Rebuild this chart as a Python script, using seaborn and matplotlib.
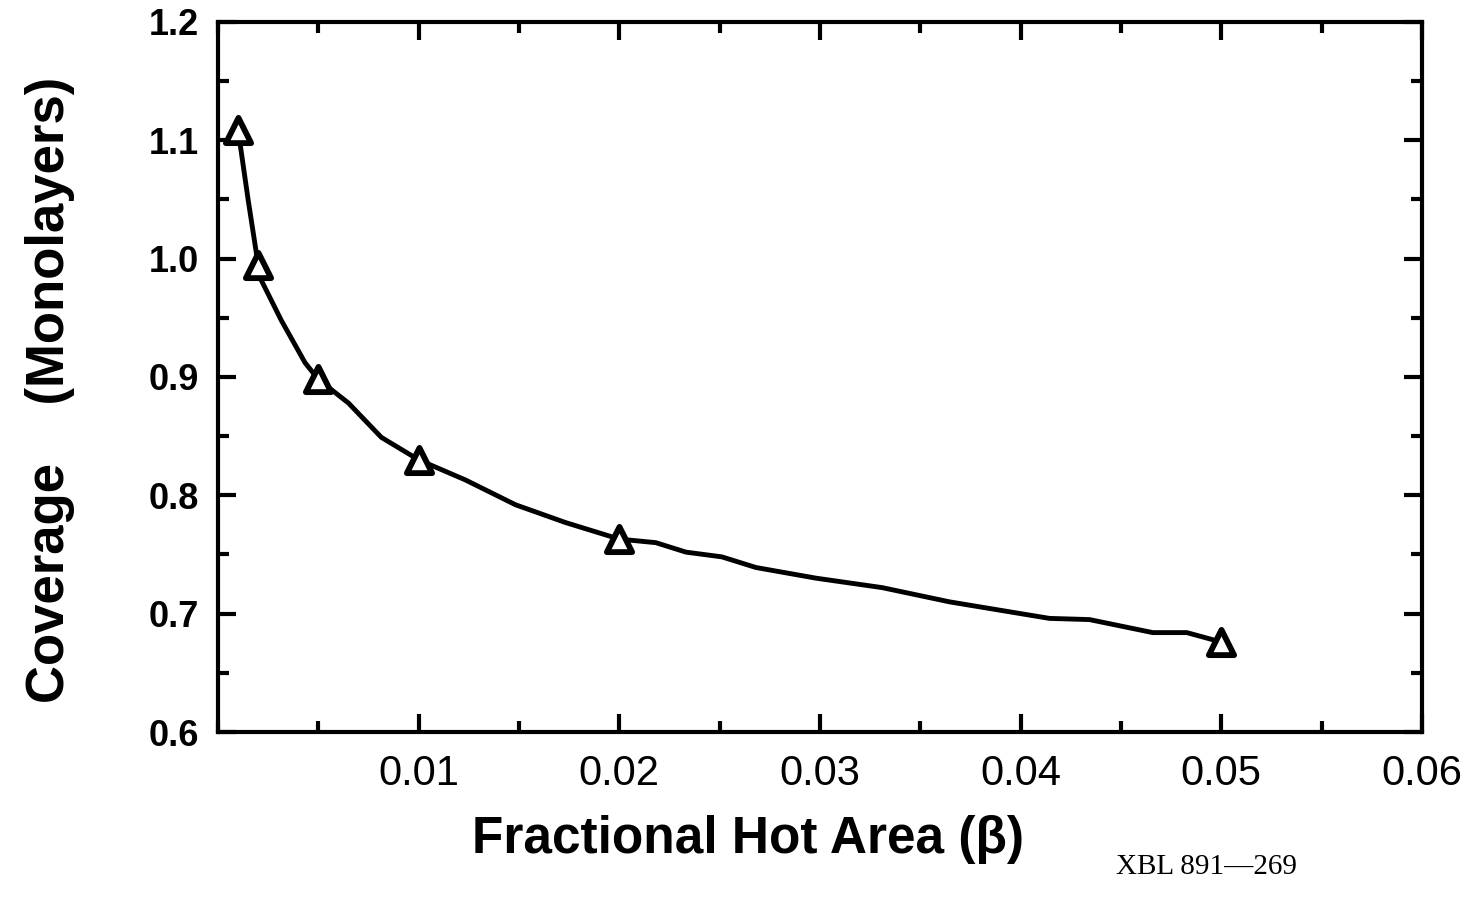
import matplotlib
matplotlib.use("Agg")
import matplotlib.pyplot as plt
from matplotlib.ticker import MultipleLocator, FixedLocator
import seaborn as sns
import pandas as pd

# Measured points (triangles)
beta_pts = [0.001, 0.002, 0.005, 0.010, 0.020, 0.050]
cov_pts = [1.109, 0.995, 0.898, 0.830, 0.763, 0.676]

# Curve
curve_beta = [0.0010, 0.0015, 0.0020, 0.00215, 0.00315, 0.00434, 0.0050, 0.0065,
              0.00814, 0.0100, 0.01233, 0.01483, 0.01732, 0.0200, 0.02182, 0.02332,
              0.02511, 0.02681, 0.0298, 0.0331, 0.03645, 0.03894, 0.04144, 0.04343,
              0.04658, 0.04828, 0.0500]
curve_cov = [1.109, 1.050, 0.995, 0.982, 0.948, 0.912, 0.898, 0.878,
             0.849, 0.830, 0.813, 0.792, 0.777, 0.763, 0.760, 0.752,
             0.748, 0.739, 0.730, 0.722, 0.710, 0.703, 0.696, 0.695,
             0.684, 0.684, 0.676]

x_ticks = [0.01, 0.02, 0.03, 0.04, 0.05, 0.06]
x_ticklabels = ["0.01", "0.02", "0.03", "0.04", "0.05", "0.06"]
y_ticks = [0.6, 0.7, 0.8, 0.9, 1.0, 1.1, 1.2]
y_ticklabels = ["0.6", "0.7", "0.8", "0.9", "1.0", "1.1", "1.2"]

sns.set_style("ticks")
plt.rcParams['font.family'] = ['Liberation Sans', 'DejaVu Sans']
plt.rcParams['text.color'] = 'black'
plt.rcParams['xtick.color'] = 'black'
plt.rcParams['ytick.color'] = 'black'
plt.rcParams['xtick.labelcolor'] = 'black'
plt.rcParams['ytick.labelcolor'] = 'black'

fig = plt.figure(figsize=(14.79, 8.98), dpi=100)
ax = fig.add_axes([218/1479, 1 - 732/898, (1422-218)/1479, (732-22)/898])

df_curve = pd.DataFrame({"beta": curve_beta, "cov": curve_cov})
df_pts = pd.DataFrame({"beta": beta_pts, "cov": cov_pts})

sns.lineplot(data=df_curve, x="beta", y="cov", ax=ax, color="black", lw=3.5,
             sort=False, estimator=None, zorder=2)
sns.scatterplot(data=df_pts, x="beta", y="cov", ax=ax, marker="^", s=330,
                facecolor="white", edgecolor="black", linewidth=4.2, zorder=3)

ax.set_xlim(0, 0.06)
ax.set_ylim(0.6, 1.2)
ax.xaxis.set_major_locator(FixedLocator(x_ticks))
ax.set_xticklabels(x_ticklabels)
ax.xaxis.set_minor_locator(MultipleLocator(0.005))
ax.yaxis.set_major_locator(FixedLocator(y_ticks))
ax.set_yticklabels(y_ticklabels)
ax.yaxis.set_minor_locator(MultipleLocator(0.05))

for s in ax.spines.values():
    s.set_linewidth(3.0)
    s.set_color("black")
    s.set_visible(True)

ax.tick_params(which="both", direction="in", top=True, right=True, color="black")
ax.tick_params(which="major", length=13, width=3.0)
ax.tick_params(which="minor", length=8, width=3.0)
ax.tick_params(axis="x", which="major", pad=16, labelsize=30)
ax.tick_params(axis="y", which="major", pad=14, labelsize=26)
for lab in ax.get_yticklabels():
    lab.set_fontweight("bold")
for lab in ax.get_xticklabels():
    lab.set_fontweight("normal")

ax.set_xlabel("")
ax.set_ylabel("")

fig.text(50/1479, 1 - 390/898, "Coverage    (Monolayers)", rotation=90,
         ha="center", va="center", fontsize=38, fontweight="bold", color="black")
fig.text(748/1479, 1 - 840/898, "Fractional Hot Area (\u03b2)", ha="center", va="center",
         fontsize=37, fontweight="bold", color="black")
fig.text(1207/1479, 1 - 867/898, "XBL 891\u2014269", ha="center", va="center",
         fontsize=21, color="black", family=["Liberation Serif", "DejaVu Serif"])

fig.savefig("out.png", dpi=100, facecolor="white")
